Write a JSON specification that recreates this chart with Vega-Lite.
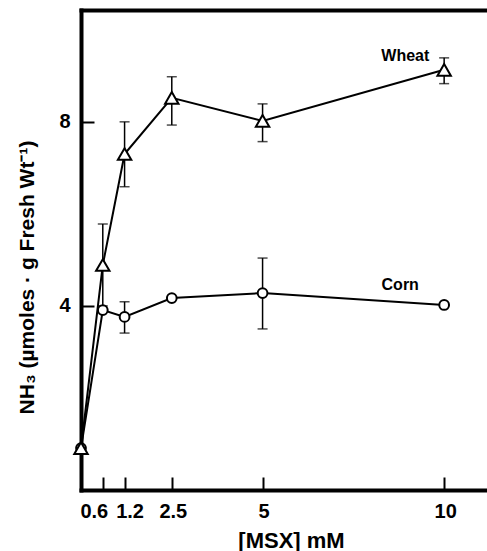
{
  "$schema": "https://vega.github.io/schema/vega-lite/v6.json",
  "width": 406,
  "height": 480,
  "autosize": "none",
  "padding": {"left": 81, "top": 10, "right": 0, "bottom": 61},
  "background": "white",
  "config": {
    "font": "Liberation Sans",
    "view": {"stroke": null},
    "axis": {
      "domainColor": "black",
      "domainWidth": 4,
      "domainCap": "square",
      "tickColor": "black",
      "tickWidth": 2,
      "tickSize": -13,
      "grid": false,
      "labelColor": "black",
      "labelFont": "Liberation Sans",
      "labelFontWeight": "bold",
      "labelFontSize": 20,
      "labelOverlap": false,
      "titleColor": "black",
      "titleFont": "Liberation Sans",
      "titleFontWeight": "bold",
      "titleFontSize": 21
    }
  },
  "datasets": {
    "series": [
      {"series": "Corn", "x": 0, "y": 0.91, "lo": null, "hi": null},
      {"series": "Corn", "x": 0.6, "y": 3.91, "lo": null, "hi": null},
      {"series": "Corn", "x": 1.2, "y": 3.76, "lo": 3.41, "hi": 4.09},
      {"series": "Corn", "x": 2.5, "y": 4.17, "lo": null, "hi": null},
      {"series": "Corn", "x": 5, "y": 4.28, "lo": 3.5, "hi": 5.04},
      {"series": "Corn", "x": 10, "y": 4.02, "lo": null, "hi": null},
      {"series": "Wheat", "x": 0, "y": 0.91, "lo": null, "hi": null},
      {"series": "Wheat", "x": 0.6, "y": 4.89, "lo": 4.0, "hi": 5.78},
      {"series": "Wheat", "x": 1.2, "y": 7.3, "lo": 6.59, "hi": 8.0},
      {"series": "Wheat", "x": 2.5, "y": 8.52, "lo": 7.93, "hi": 8.98},
      {"series": "Wheat", "x": 5, "y": 8.02, "lo": 7.57, "hi": 8.39},
      {"series": "Wheat", "x": 10, "y": 9.13, "lo": 8.83, "hi": 9.39}
    ],
    "labels": [
      {"label": "Wheat", "x": 8.93, "y": 9.43},
      {"label": "Corn", "x": 8.79, "y": 4.46}
    ]
  },
  "resolve": {"axis": {"x": "independent"}},
  "layer": [
    {
      "data": {"name": "series"},
      "mark": {"type": "line", "color": "black", "strokeWidth": 2},
      "encoding": {
        "x": {
          "field": "x", "type": "quantitative",
          "scale": {"domain": [0, 11.18], "nice": false, "zero": false},
          "axis": {
            "orient": "bottom",
            "values": [0.6, 1.2, 2.5, 5, 10],
            "format": ".2~g",
            "labelPadding": 24,
            "labelOffset": {"condition": [{"test": "datum.value == 0.6", "value": -9}, {"test": "datum.value == 1.2", "value": 5}], "value": 1},
            "title": "[MSX] mM",
            "titleFontSize": 22,
            "titleX": 210,
            "titleY": 57,
            "titleBaseline": "alphabetic",
            "titleAnchor": "middle"
          }
        },
        "y": {
          "field": "y", "type": "quantitative",
          "title": "NH₃ (µmoles · g Fresh Wt⁻¹)",
          "scale": {"domain": [0, 10.43], "nice": false, "zero": false},
          "axis": {
            "values": [4, 8],
            "format": "d",
            "labelPadding": 24,
            "titleX": -48,
            "titleY": 267,
            "titleBaseline": "alphabetic",
            "titleAnchor": "middle"
          }
        },
        "detail": {"field": "series"}
      }
    },
    {
      "data": {"name": "series"},
      "transform": [{"filter": "datum.lo != null"}],
      "mark": {"type": "errorbar", "color": "black", "thickness": 1.5, "ticks": {"size": 10, "thickness": 1.5, "color": "black"}},
      "encoding": {
        "x": {"field": "x", "type": "quantitative", "axis": {"orient": "top", "labels": false, "ticks": false, "title": null, "domain": true}},
        "y": {"field": "lo", "type": "quantitative", "title": "NH₃ (µmoles · g Fresh Wt⁻¹)"},
        "y2": {"field": "hi"}
      }
    },
    {
      "data": {"name": "series"},
      "mark": {"type": "point", "filled": true, "fill": "white", "stroke": "black", "strokeWidth": 2, "opacity": 1},
      "encoding": {
        "x": {"field": "x", "type": "quantitative", "axis": null},
        "y": {"field": "y", "type": "quantitative", "title": "NH₃ (µmoles · g Fresh Wt⁻¹)"},
        "shape": {"field": "series", "type": "nominal", "scale": {"domain": ["Wheat", "Corn"], "range": ["triangle-up", "circle"]}, "legend": null},
        "size": {"field": "series", "type": "nominal", "scale": {"domain": ["Wheat", "Corn"], "range": [180, 95]}, "legend": null}
      }
    },
    {
      "data": {"name": "labels"},
      "mark": {"type": "text", "font": "Liberation Sans", "fontWeight": "bold", "fontSize": 16, "color": "black", "align": "center", "baseline": "middle"},
      "encoding": {
        "x": {"field": "x", "type": "quantitative", "axis": null},
        "y": {"field": "y", "type": "quantitative", "title": "NH₃ (µmoles · g Fresh Wt⁻¹)"},
        "text": {"field": "label"}
      }
    }
  ]
}
